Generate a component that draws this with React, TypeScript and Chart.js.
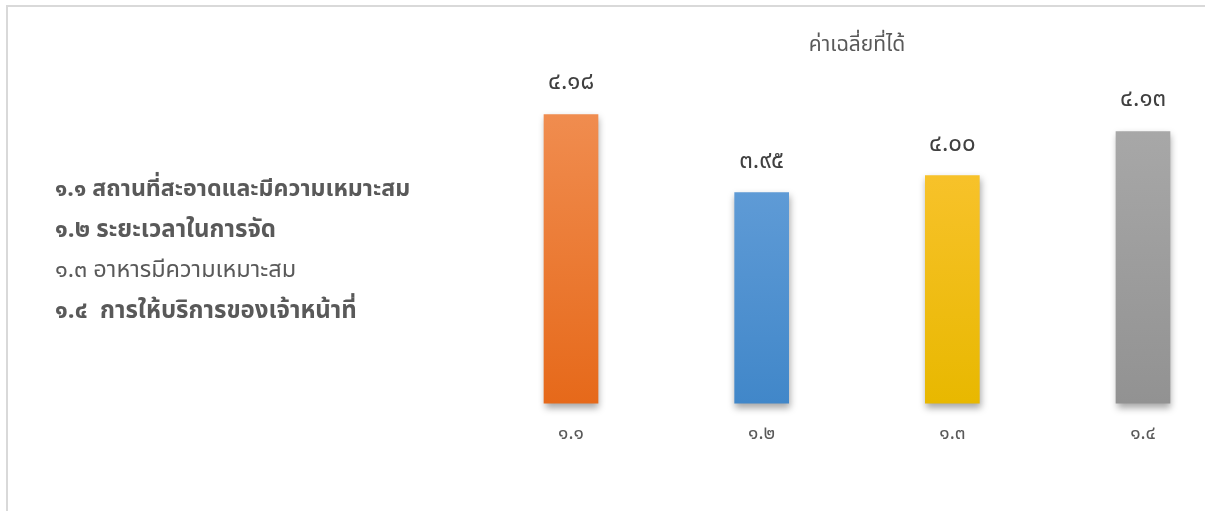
import React, { useEffect, useRef } from "react";
import { Chart, registerables } from "chart.js";

Chart.register(...registerables);

const categories = ["๑.๑", "๑.๒", "๑.๓", "๑.๔"];
const values = [4.18, 3.95, 4.0, 4.13];
const legendLines = [
  "๑.๑ สถานที่สะอาดและมีความเหมาะสม",
  "๑.๒ ระยะเวลาในการจัด",
  "๑.๓ อาหารมีความเหมาะสม",
  "๑.๔  การให้บริการของเจ้าหน้าที่",
];
const title = "ค่าเฉลี่ยที่ได้";
const yMin = 3.33;
const yMax = 4.34;
const gradTop = ["#F29359", "#71A7DE", "#FFC73F", "#ADADAD"];
const gradBottom = ["#E6691A", "#4187C9", "#E8B800", "#929292"];

const FONT = '"Noto Sans Thai", "Leelawadee UI", Tahoma, "DejaVu Sans", "Noto Sans", sans-serif';
const thaiDigits = "๐๑๒๓๔๕๖๗๘๙";
const toThai = (s: string) => s.replace(/[0-9]/g, (d) => thaiDigits[Number(d)]);

const labelPlugin = {
  id: "barLabels",
  afterDatasetsDraw(chart: any) {
    const ctx = chart.ctx;
    const meta = chart.getDatasetMeta(0);
    ctx.save();
    ctx.shadowColor = "transparent";
    ctx.font = `24px ${FONT}`;
    ctx.fillStyle = "#404040";
    ctx.textAlign = "center";
    ctx.textBaseline = "middle";
    meta.data.forEach((el: any, i: number) => {
      ctx.fillText(toThai(values[i].toFixed(2)), el.x, el.y - 30);
    });
    ctx.restore();
  },
};

const shadowPlugin = {
  id: "barShadow",
  beforeDatasetsDraw(chart: any) {
    const ctx = chart.ctx;
    ctx.save();
    ctx.shadowColor = "rgba(0,0,0,0.35)";
    ctx.shadowBlur = 7;
    ctx.shadowOffsetX = 1;
    ctx.shadowOffsetY = 4;
  },
  afterDatasetsDraw(chart: any) {
    chart.ctx.restore();
  },
};

const legendSizes = [23.2, 24, 23.5, 24];
const legendWeights = [700, 700, 400, 700];

export default function App() {
  const ref = useRef<HTMLCanvasElement | null>(null);
  useEffect(() => {
    if (!ref.current) return;
    const chart = new Chart(ref.current, {
      type: "bar",
      data: {
        labels: categories,
        datasets: [
          {
            data: values.map((v) => [yMin, v]) as any,
            barThickness: 54,
            clip: false as any,
            backgroundColor: (c: any) => {
              const area = c.chart.chartArea;
              if (!area) return gradBottom[c.dataIndex];
              const el = c.chart.getDatasetMeta(0).data[c.dataIndex];
              const top = el && typeof el.y === "number" && isFinite(el.y) ? el.y : area.top;
              const g = c.chart.ctx.createLinearGradient(0, top, 0, area.bottom);
              g.addColorStop(0, gradTop[c.dataIndex]);
              g.addColorStop(1, gradBottom[c.dataIndex]);
              return g;
            },
          },
        ],
      },
      options: {
        animation: false,
        responsive: false,
        maintainAspectRatio: false,
        layout: { padding: { left: 563, right: 54, top: 10, bottom: 43 } },
        plugins: {
          legend: { display: false },
          tooltip: { enabled: false },
          title: {
            display: true,
            text: title,
            color: "#595959",
            font: { family: FONT, size: 21, weight: "normal" },
            padding: { top: 16, bottom: 1 },
          },
        },
        scales: {
          x: {
            offset: false,
            grid: { display: false, drawTicks: false },
            border: { display: false },
            ticks: { color: "#595959", padding: 21, font: { family: FONT, size: 19 } },
          },
          y: {
            display: false,
            min: yMin,
            max: yMax,
          },
        },
      },
      plugins: [shadowPlugin, labelPlugin],
    });
    return () => chart.destroy();
  }, []);

  return (
    <div style={{ position: "relative", width: 1189, height: 490 }}>
      <div
        style={{
          position: "fixed",
          left: 6,
          top: 5,
          width: 1220,
          height: 520,
          borderLeft: "2px solid #d9d9d9",
          borderTop: "2px solid #d9d9d9",
          boxSizing: "border-box",
          pointerEvents: "none",
          zIndex: 1,
        }}
      />
      <canvas ref={ref} width={1189} height={503} style={{ position: "absolute", left: 0, top: 0 }} />
      <div
        style={{
          position: "absolute",
          left: 47,
          top: 161,
          fontFamily: FONT,
          color: "#595959",
        }}
      >
        {legendLines.map((t, i) => (
          <div
            key={i}
            style={{
              height: 40.5,
              lineHeight: "40.5px",
              fontSize: legendSizes[i],
              fontWeight: legendWeights[i],
              whiteSpace: "pre",
            }}
          >
            {t}
          </div>
        ))}
      </div>
    </div>
  );
}
